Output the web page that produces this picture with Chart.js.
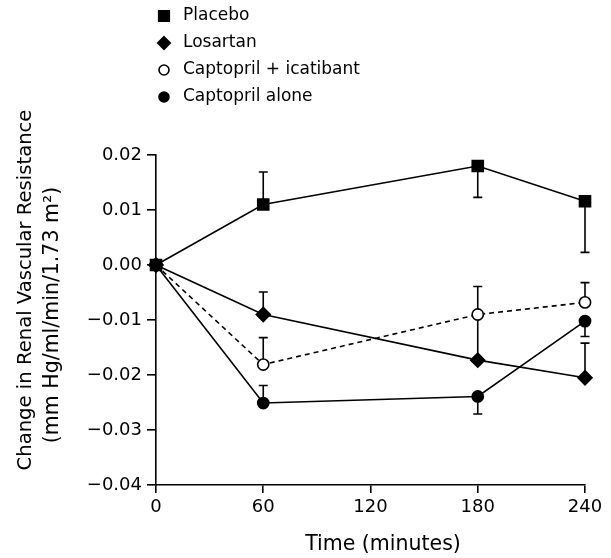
<!DOCTYPE html>
<html>
<head>
<meta charset="utf-8">
<script src="https://cdn.jsdelivr.net/npm/chart.js@4.4.1/dist/chart.umd.min.js"></script>
<style>
  html, body { margin: 0; padding: 0; background: #fff; }
  #wrap { width: 611px; height: 558px; }
</style>
</head>
<body>
<div id="wrap"><canvas id="rvr-chart" width="611" height="558"></canvas></div>
<script>
const times = [0, 60, 180, 240];
const xTicks = [0, 60, 120, 180, 240];

const seriesNames = ['Placebo', 'Losartan', 'Captopril + icatibant', 'Captopril alone'];
const placebo = [0, 0.0110, 0.0180, 0.0116];
const losartan = [0, -0.0090, -0.0173, -0.0205];
const captoprilIcatibant = [0, -0.0181, -0.0090, -0.0068];
const captoprilAlone = [0, -0.0251, -0.0239, -0.0102];

// signed SEM: positive = bar drawn upward, negative = downward
const placeboErr = [0, 0.0059, -0.0057, -0.0093];
const losartanErr = [0, 0.0041, 0.0080, 0.0063];
const captoprilIcatibantErr = [0, 0.0049, 0.0051, 0.0036];
const captoprilAloneErr = [0, 0.0032, -0.0032, -0.0028];

const FONT = '"DejaVu Sans", Arial, sans-serif';

function pts(values) {
    return values.map((v, i) => ({ x: times[i], y: v }));
}

const errors = [placeboErr, losartanErr, captoprilIcatibantErr, captoprilAloneErr];

const errorBars = {
    id: 'errorBars',
    beforeDatasetsDraw(chart) {
        const ctx = chart.ctx;
        const xs = chart.scales.x, ys = chart.scales.y;
        ctx.save();
        ctx.strokeStyle = '#000';
        ctx.lineWidth = 1.6;
        chart.data.datasets.forEach((ds, di) => {
            ds.data.forEach((p, i) => {
                const e = errors[di][i];
                if (!e) return;
                const px = xs.getPixelForValue(p.x);
                const y0 = ys.getPixelForValue(p.y);
                const y1 = ys.getPixelForValue(p.y + e);
                ctx.beginPath();
                ctx.moveTo(px, y0);
                ctx.lineTo(px, y1);
                ctx.moveTo(px - 4.5, y1);
                ctx.lineTo(px + 4.5, y1);
                ctx.stroke();
            });
        });
        ctx.restore();
    }
};

function drawMarker(ctx, style, x, y, filled) {
    ctx.beginPath();
    if (style === 'rect') {
        ctx.rect(x - 5.3, y - 5.3, 10.6, 10.6);
    } else if (style === 'rectRot') {
        ctx.moveTo(x, y - 6.3);
        ctx.lineTo(x + 6.3, y);
        ctx.lineTo(x, y + 6.3);
        ctx.lineTo(x - 6.3, y);
        ctx.closePath();
    } else {
        ctx.arc(x, y, 5, 0, Math.PI * 2);
    }
    ctx.fillStyle = filled ? '#000' : '#fff';
    ctx.fill();
    ctx.lineWidth = 1.6;
    ctx.strokeStyle = '#000';
    ctx.stroke();
}

const sideText = {
    id: 'sideText',
    afterDraw(chart) {
        const ctx = chart.ctx;
        ctx.save();
        // legend
        ctx.font = '17px ' + FONT;
        ctx.textBaseline = 'middle';
        const rows = [16, 43, 70, 97];
        chart.data.datasets.forEach((ds, i) => {
            drawMarker(ctx, ds.pointStyle, 164, rows[i], ds.pointBackgroundColor !== '#fff');
            ctx.fillStyle = '#000';
            ctx.fillText(ds.label, 183, rows[i]);
        });
        // x title
        ctx.textAlign = 'center';
        ctx.font = '20.5px ' + FONT;
        ctx.fillText('Time (minutes)', 383, 545);
        // y title
        ctx.translate(0, 0);
        ctx.save();
        ctx.translate(26, 290);
        ctx.rotate(-Math.PI / 2);
        ctx.font = '19.6px ' + FONT;
        ctx.fillText('Change in Renal Vascular Resistance', 0, 0);
        ctx.restore();
        ctx.translate(53, 315);
        ctx.rotate(-Math.PI / 2);
        ctx.font = '20.5px ' + FONT;
        ctx.fillText('(mm Hg/ml/min/1.73 m\u00B2)', 0, 0);
        ctx.restore();
    }
};

const styles = ['rect', 'rectRot', 'circle', 'circle'];
const radii = [7.8, 7, 5.6, 5.6];
const fills = ['#000', '#000', '#fff', '#000'];
const dashes = [[], [], [5, 4], []];

const datasets = [placebo, losartan, captoprilIcatibant, captoprilAlone].map((vals, i) => ({
    label: seriesNames[i],
    data: pts(vals),
    borderColor: '#000',
    borderWidth: 1.6,
    borderDash: dashes[i],
    pointStyle: styles[i],
    pointRadius: radii[i],
    pointBackgroundColor: fills[i],
    pointBorderColor: '#000',
    pointBorderWidth: 1.6,
    fill: false,
    clip: false,
    tension: 0
}));

new Chart(document.getElementById('rvr-chart'), {
    type: 'line',
    data: { datasets },
    options: {
        responsive: false,
        animation: false,
        layout: { padding: { left: 0, right: 26, top: 155, bottom: 0 } },
        plugins: {
            legend: { display: false },
            tooltip: { enabled: false }
        },
        scales: {
            x: {
                type: 'linear',
                min: 0,
                max: 240,
                afterBuildTicks: s => { s.ticks = xTicks.map(v => ({ value: v })); },
                afterFit: s => { s.height = 73; },
                border: { color: '#000', width: 1.6 },
                grid: { drawOnChartArea: false, drawTicks: true, tickLength: 8, color: '#000', lineWidth: 1.6 },
                ticks: { color: '#000', font: { family: FONT, size: 18 }, padding: 4, maxRotation: 0 }
            },
            y: {
                min: -0.04,
                max: 0.02,
                ticks: {
                    stepSize: 0.01,
                    color: '#000',
                    font: { family: FONT, size: 18 },
                    padding: 5,
                    callback: v => (v < -1e-9 ? '\u2212' : '') + Math.abs(v).toFixed(2)
                },
                afterFit: s => { s.width = 156; },
                border: { color: '#000', width: 1.6 },
                grid: { drawOnChartArea: false, drawTicks: true, tickLength: 9, color: '#000', lineWidth: 1.6 }
            }
        }
    },
    plugins: [errorBars, sideText]
});
</script>
</body>
</html>
